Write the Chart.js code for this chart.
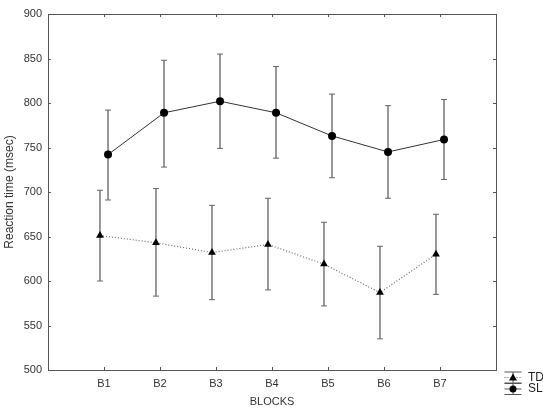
<!DOCTYPE html>
<html>
<head>
  <meta charset="UTF-8">
  <title>Reaction time by block</title>
  <script src="https://cdn.jsdelivr.net/npm/chart.js"></script>
  <style>
    html, body { margin: 0; padding: 0; background: #fff; }
    #wrap { width: 543px; height: 410px; }
  </style>
</head>
<body>
  <div id="wrap"><canvas id="grafico"></canvas></div>

  <script>
    const blocks = ['B1', 'B2', 'B3', 'B4', 'B5', 'B6', 'B7'];

    // TD group (triangles, dotted)
    const tdMean = [651, 643, 632, 641, 619, 587, 630];
    const tdLow  = [600, 583, 579, 590, 572, 535, 585];
    const tdHigh = [702, 704, 685, 693, 666, 639, 675];

    // SLI group (circles, solid)
    const sliMean = [742, 789, 802, 789, 763, 745, 759];
    const sliLow  = [691, 728, 749, 738, 716, 693, 714];
    const sliHigh = [792, 848, 855, 841, 810, 797, 804];

    const yTicks = [500, 550, 600, 650, 700, 750, 800, 850, 900];

    const shift = 0.072; // small horizontal dodge between groups
    const pts = (vals, d) => vals.map((v, i) => ({ x: i + 1 + d, y: v }));

    const font = 'Liberation Sans, Arial, sans-serif';

    // error bars, frame, inner ticks and legend
    const extras = {
      id: 'extras',
      beforeDatasetsDraw(chart) {
        const c = chart.ctx, xs = chart.scales.x, ys = chart.scales.y;
        const bars = [[tdLow, tdHigh, -shift], [sliLow, sliHigh, shift]];
        c.save();
        bars.forEach(([lo, hi, d]) => {
          lo.forEach((l, i) => {
            const x = xs.getPixelForValue(i + 1 + d);
            const y1 = ys.getPixelForValue(l), y2 = ys.getPixelForValue(hi[i]);
            c.strokeStyle = '#777';
            c.lineWidth = 1.5;
            c.beginPath(); c.moveTo(x, y1); c.lineTo(x, y2); c.stroke();
            c.lineWidth = 1;
            c.strokeStyle = '#666';
            c.beginPath();
            c.moveTo(x - 3, y1); c.lineTo(x + 3, y1);
            c.moveTo(x - 3, y2); c.lineTo(x + 3, y2);
            c.stroke();
          });
        });
        c.restore();
      },
      afterDraw(chart) {
        const c = chart.ctx, a = chart.chartArea;
        const xs = chart.scales.x, ys = chart.scales.y;
        c.save();
        c.strokeStyle = '#555';
        c.lineWidth = 1;
        c.strokeRect(Math.round(a.left) + 0.5, Math.round(a.top) + 0.5,
                     Math.round(a.right - a.left), Math.round(a.bottom - a.top));
        c.beginPath();
        blocks.forEach((b, i) => {
          const x = Math.round(xs.getPixelForValue(i + 1)) + 0.5;
          c.moveTo(x, a.bottom); c.lineTo(x, a.bottom - 3);
          c.moveTo(x, a.top); c.lineTo(x, a.top + 3);
        });
        yTicks.forEach(v => {
          const y = Math.round(ys.getPixelForValue(v)) + 0.5;
          c.moveTo(a.left, y); c.lineTo(a.left + 3, y);
          c.moveTo(a.right, y); c.lineTo(a.right - 3, y);
        });
        c.stroke();

        // legend
        const entries = [
          { label: 'TD', style: 'triangle', dash: [1, 2] },
          { label: 'SLI', style: 'circle', dash: [] }
        ];
        const lx = a.right + 17, ly = a.bottom + 7.5;
        entries.forEach((e, k) => {
          const cy = ly + k * 11.5;
          c.strokeStyle = '#555';
          c.lineWidth = 1;
          c.setLineDash([]);
          c.beginPath();
          c.moveTo(lx - 8.5, cy - 5.5); c.lineTo(lx + 8.5, cy - 5.5);
          c.moveTo(lx - 8.5, cy + 5.5); c.lineTo(lx + 8.5, cy + 5.5);
          c.moveTo(lx, cy - 5.5); c.lineTo(lx, cy + 5.5);
          c.stroke();
          c.setLineDash(e.dash);
          c.beginPath();
          c.moveTo(lx - 8.5, cy); c.lineTo(lx + 8.5, cy);
          c.stroke();
          c.setLineDash([]);
          c.fillStyle = '#000';
          c.beginPath();
          if (e.style === 'circle') {
            c.arc(lx, cy, 3.5, 0, Math.PI * 2);
          } else {
            c.moveTo(lx, cy - 4); c.lineTo(lx + 4, cy + 3); c.lineTo(lx - 4, cy + 3); c.closePath();
          }
          c.fill();
          c.fillStyle = '#222';
          c.font = '12px ' + font;
          c.textAlign = 'left';
          c.textBaseline = 'middle';
          c.fillText(e.label, lx + 15, cy);
        });
        c.restore();
      }
    };

    const ctx = document.getElementById('grafico').getContext('2d');
    const chart = new Chart(ctx, {
      type: 'line',
      data: {
        datasets: [
          {
            label: 'TD',
            data: pts(tdMean, -shift),
            borderColor: '#666',
            borderWidth: 1.2,
            borderDash: [1, 2],
            pointStyle: 'triangle',
            pointRadius: 4.5,
            pointBackgroundColor: '#000',
            pointBorderColor: '#000',
            pointBorderWidth: 0,
            tension: 0
          },
          {
            label: 'SLI',
            data: pts(sliMean, shift),
            borderColor: '#333',
            borderWidth: 1,
            pointStyle: 'circle',
            pointRadius: 4,
            pointBackgroundColor: '#000',
            pointBorderColor: '#000',
            pointBorderWidth: 0,
            tension: 0
          }
        ]
      },
      options: {
        animation: false,
        responsive: true,
        maintainAspectRatio: false,
        layout: { padding: { top: 14, right: 47, left: 0, bottom: 0 } },
        plugins: {
          legend: { display: false },
          tooltip: { enabled: false }
        },
        scales: {
          x: {
            type: 'linear',
            min: 0,
            max: 8,
            afterFit: s => { s.height = 40; },
            afterBuildTicks: s => { s.ticks = blocks.map((b, i) => ({ value: i + 1 })); },
            grid: { display: false, drawTicks: false },
            border: { display: false },
            ticks: {
              padding: 7,
              autoSkip: false,
              maxRotation: 0,
              color: '#333',
              font: { family: font, size: 11 },
              callback: v => blocks[v - 1] || ''
            },
            title: {
              display: true,
              text: 'BLOCKS',
              color: '#333',
              padding: { top: 0, bottom: 1 },
              font: { family: font, size: 11 }
            }
          },
          y: {
            min: 500,
            max: 900,
            afterFit: s => { s.width = 48; },
            afterBuildTicks: s => { s.ticks = yTicks.map(v => ({ value: v })); },
            grid: { display: false, drawTicks: false },
            border: { display: false },
            ticks: {
              padding: 6,
              color: '#333',
              font: { family: font, size: 11 }
            },
            title: {
              display: true,
              text: 'Reaction time (msec)',
              color: '#333',
              padding: { top: 2, bottom: 0 },
              font: { family: font, size: 12 }
            }
          }
        }
      },
      plugins: [extras]
    });
  </script>
</body>
</html>
